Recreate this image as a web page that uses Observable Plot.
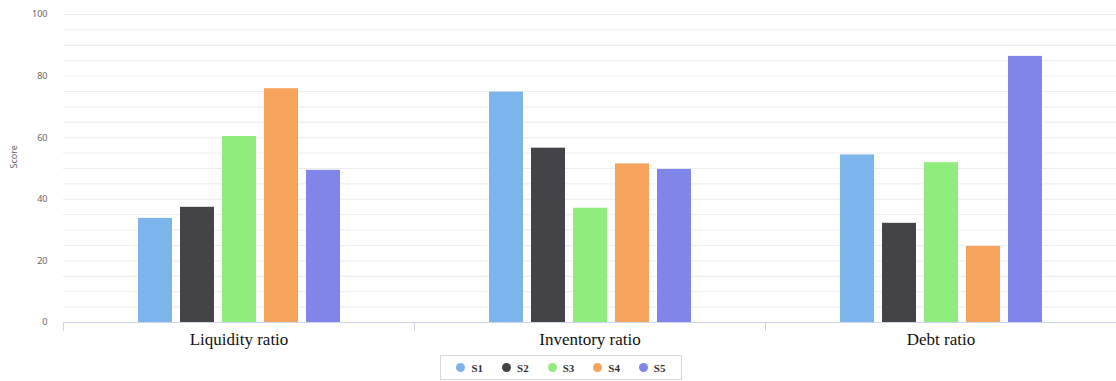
<!DOCTYPE html>
<html>
<head>
<meta charset="utf-8">
<script src="https://cdn.jsdelivr.net/npm/d3@7"></script>
<script src="https://cdn.jsdelivr.net/npm/@observablehq/plot@0.6"></script>
<style>
  html, body { margin: 0; padding: 0; background: #fff; }
  #chart { width: 1116px; height: 381px; position: relative; }
  #legend {
    position: absolute; left: 440px; top: 355px; width: 242px; height: 25px;
    border: 1px solid #d8d8d8; box-sizing: border-box;
    display: flex; align-items: center; justify-content: space-around;
    font-family: "Liberation Serif", serif; font-size: 11px; font-weight: bold; color: #333; padding: 0 6px;
  }
  #legend span.item { display: flex; align-items: center; gap: 6px; }
  #legend span.dot { width: 9px; height: 9px; border-radius: 50%; display: inline-block; }
</style>
</head>
<body>
<div id="chart"></div>
<script>
const categories = ["Liquidity ratio", "Inventory ratio", "Debt ratio"];
const seriesNames = ["S1", "S2", "S3", "S4", "S5"];
const colors = ["#7cb5ec", "#434348", "#90ed7d", "#f7a35c", "#8085e9"];
const s1 = [33.8, 74.8, 54.4];
const s2 = [37.4, 56.6, 32.2];
const s3 = [60.4, 37.1, 51.9];
const s4 = [75.9, 51.5, 24.7];
const s5 = [49.4, 49.7, 86.4];
const yTicks = [0, 20, 40, 60, 80, 100];
const gridTicks = d3.range(0, 101, 5);

const seriesValues = [s1, s2, s3, s4, s5];
const data = [];
categories.forEach((c, i) => {
  seriesNames.forEach((s, j) => data.push({category: c, series: s, value: seriesValues[j][i]}));
});

const plot = Plot.plot({
  width: 1116,
  height: 353,
  marginLeft: 62,
  marginRight: 0,
  marginTop: 14,
  marginBottom: 31,
  style: {background: "#fff"},
  fx: {domain: categories, padding: 0, label: null, axis: null},
  x: {domain: seriesNames, paddingInner: 0.2, paddingOuter: 1.7, axis: null},
  y: {domain: [0, 100], label: null, axis: null},
  color: {domain: seriesNames, range: colors},
  marks: [
    Plot.ruleY(gridTicks, {y: d => d, stroke: "#ececec", strokeWidth: 1}),
    Plot.barY(data, {fx: "category", x: "series", y: "value", fill: "series"}),
    Plot.ruleY([0], {stroke: "#ccd6eb", strokeWidth: 1}),
    Plot.frame({anchor: "left", insetTop: 308, insetBottom: -8, stroke: "#ccd6eb"}),
    Plot.axisFx({anchor: "bottom", domain: categories, label: null, tickSize: 0, tickPadding: 10,
      fontFamily: "Liberation Serif", fontSize: 17, fill: "#111"}),
    Plot.axisY({facetAnchor: "left", ticks: yTicks, tickSize: 0, tickPadding: 16, fontSize: 9, fill: "#666",
      label: null}),
    Plot.text(["Score"], {facetAnchor: "left", frameAnchor: "left", dx: -49, rotate: -90, fontSize: 9, fill: "#666",
      y: () => 50})
  ]
});

const chart = document.getElementById("chart");
chart.appendChild(plot);
const legend = document.createElement("div");
legend.id = "legend";
seriesNames.forEach((s, i) => {
  const item = document.createElement("span");
  item.className = "item";
  const dot = document.createElement("span");
  dot.className = "dot";
  dot.style.background = colors[i];
  item.appendChild(dot);
  item.appendChild(document.createTextNode(s));
  legend.appendChild(item);
});
chart.appendChild(legend);
</script>
</body>
</html>
